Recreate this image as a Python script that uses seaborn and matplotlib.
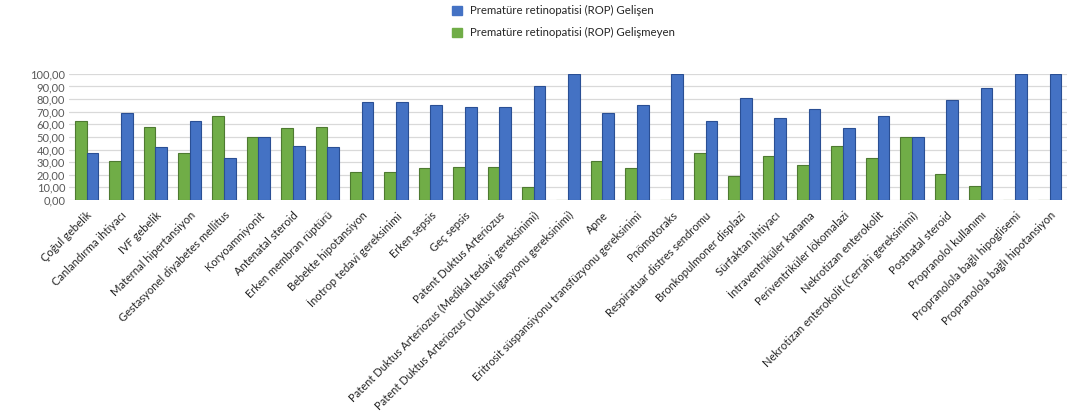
import matplotlib
matplotlib.use("Agg")
import matplotlib.pyplot as plt
import seaborn as sns
import pandas as pd

categories = [
    "Çoğul gebelik", "Canlandırma ihtiyacı", "IVF gebelik", "Maternal hipertansiyon",
    "Gestasyonel diyabetes mellitus", "Koryoamniyonit", "Antenatal steroid",
    "Erken membran rüptürü", "Bebekte hipotansiyon", "İnotrop tedavi gereksinimi",
    "Erken sepsis", "Geç sepsis", "Patent Duktus Arteriozus",
    "Patent Duktus Arteriozus (Medikal tedavi gereksinimi)",
    "Patent Duktus Arteriozus (Duktus ligasyonu gereksinimi)", "Apne",
    "Eritrosit süspansiyonu transfüzyonu gereksinimi", "Pnömotoraks",
    "Respiratuar distres sendromu", "Bronkopulmoner displazi", "Sürfaktan ihtiyacı",
    "İntraventriküler kanama", "Periventriküler lökomalazi", "Nekrotizan enterokolit",
    "Nekrotizan enterokolit (Cerrahi gereksinimi)", "Postnatal steroid",
    "Propranolol kullanımı", "Propranolola bağlı hipoglisemi",
    "Propranolola bağlı hipotansiyon",
]
gelismeyen = [63, 31, 58, 37, 67, 50, 57, 58, 22, 22, 25, 26, 26, 10, 0, 31, 25, 0,
              37, 19, 35, 28, 43, 33, 50, 21, 11, 0, 0]
gelisen = [37, 69, 42, 63, 33, 50, 43, 42, 78, 78, 75, 74, 74, 90, 100, 69, 75, 100,
           63, 81, 65, 72, 57, 67, 50, 79, 89, 100, 100]
series = ["Prematüre retinopatisi (ROP) Gelişmeyen", "Prematüre retinopatisi (ROP) Gelişen"]
colors = ["#70AD47", "#4472C4"]

df = pd.DataFrame({
    "cat": categories * 2,
    "val": gelismeyen + gelisen,
    "grp": [series[0]] * len(categories) + [series[1]] * len(categories),
})

sns.set_style("white")
plt.rcParams["font.family"] = ["Lato", "DejaVu Sans"]

fig = plt.figure(figsize=(10.83, 4.15), dpi=100)
ax = fig.add_axes([0.064, 0.518, 0.921, 0.304])
sns.barplot(data=df, x="cat", y="val", hue="grp", hue_order=series,
            palette=colors, width=0.68, ax=ax, legend=False,
            edgecolor="none", saturation=1)
for i, cont in enumerate(ax.containers):
    edge = ["#4E7A31", "#2A4F94"][i]
    for bar in cont:
        bar.set_edgecolor(edge)
        bar.set_linewidth(0.8)

ax.set_ylim(0, 100)
ax.set_xlim(-0.5, len(categories) - 0.5)
ax.set_yticks(range(0, 101, 10))
ax.set_yticklabels([f"{v},00" for v in range(0, 101, 10)], fontsize=8, color="#595959")
ax.yaxis.grid(True, color="#D9D9D9", linewidth=0.9)
ax.set_axisbelow(True)
ax.set_xlabel("")
ax.set_ylabel("")
ax.tick_params(axis="y", length=0, pad=3)
ax.tick_params(axis="x", length=0, pad=7)
ax.set_xticks(range(len(categories)))
ax.set_xticklabels(categories, rotation=45, ha="right", rotation_mode="anchor",
                   fontsize=8, color="#262626")
sns.despine(ax=ax, left=True, bottom=True)

handles = [plt.Rectangle((0, 0), 1, 1, color=c) for c in colors]
fig.legend(handles[::-1], series[::-1], loc="upper left",
           bbox_to_anchor=(0.408, 1.012), frameon=False, fontsize=8.2,
           handlelength=0.9, handleheight=0.9, labelspacing=0.95,
           handletextpad=0.7)

fig.savefig("out.png", dpi=100)
